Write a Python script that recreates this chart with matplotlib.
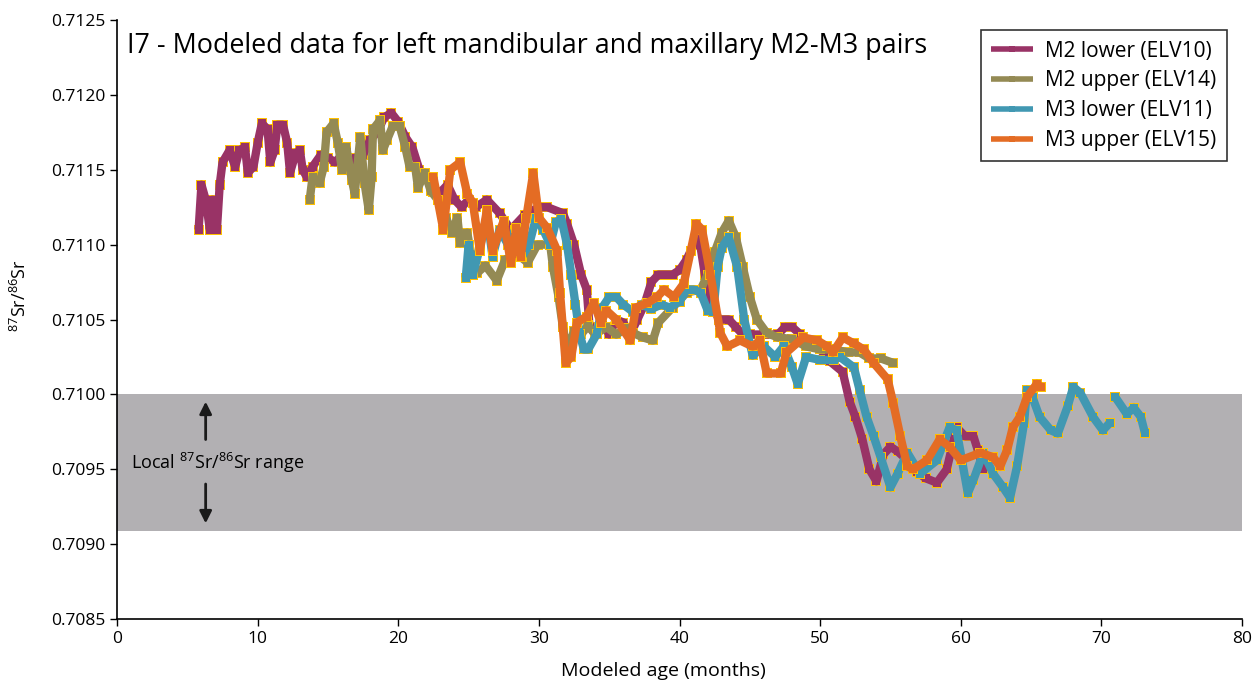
import matplotlib
matplotlib.use("Agg")
import matplotlib.pyplot as plt
import numpy as np

plt.rcParams['font.family'] = ['Open Sans', 'DejaVu Sans']
plt.rcParams['mathtext.default'] = 'regular'

# ---------------- data ----------------
m2_lower_x = [5.8, 6.0, 6.3, 6.6, 6.8, 7.1, 7.3, 7.5, 8.0, 8.4, 8.7, 9.1, 9.3, 9.7, 10.0, 10.3, 10.7, 10.9,
              11.2, 11.4, 11.8, 12.1, 12.3, 12.7, 13.0, 13.2, 13.5, 13.9, 14.5, 15.0, 15.5, 16.0, 16.5, 17.0,
              17.5, 18.0, 18.5, 19.0, 19.5, 20.0, 20.5, 21.0, 21.5, 22.0, 22.5, 23.0, 23.5, 24.0, 24.5, 25.0,
              25.5, 26.3, 27.2, 28.0, 29.0, 30.0, 30.6, 31.7, 32.0, 32.5, 33.0, 33.4, 33.6, 34.0, 34.5, 35.0,
              35.5, 36.0, 36.5, 37.0, 37.5, 38.0, 38.5, 39.0, 39.5, 40.0, 40.5, 41.0, 41.3, 41.8, 42.3, 42.8,
              43.5, 44.0, 44.5, 45.0, 46.0, 47.0, 47.5, 48.0, 48.6, 49.0, 50.0, 50.7, 51.6, 52.1, 52.5, 53.0,
              53.5, 54.0, 54.5, 55.0, 55.5, 56.2, 56.9, 57.5, 58.3, 59.0, 59.7, 60.3, 60.9, 61.2, 61.6]
m2_lower_y = [0.71110, 0.71140, 0.71130, 0.71110, 0.71130, 0.71110, 0.71140, 0.71155, 0.71163, 0.71152,
              0.71163, 0.71165, 0.71148, 0.71152, 0.71168, 0.71181, 0.71177, 0.71155, 0.71163, 0.71180,
              0.71180, 0.71168, 0.71148, 0.71161, 0.71163, 0.71150, 0.71145, 0.71152, 0.71160, 0.71158,
              0.71155, 0.71160, 0.71152, 0.71158, 0.71160, 0.71170, 0.71175, 0.71185, 0.71188, 0.71182,
              0.71172, 0.71165, 0.71150, 0.71145, 0.71135, 0.71135, 0.71140, 0.71130, 0.71125, 0.71130,
              0.71125, 0.71130, 0.71121, 0.71110, 0.71120, 0.71125, 0.71125, 0.71121, 0.71114, 0.71100,
              0.71080, 0.71070, 0.71045, 0.71040, 0.71048, 0.71040, 0.71050, 0.71048, 0.71040, 0.71050,
              0.71060, 0.71075, 0.71080, 0.71080, 0.71080, 0.71083, 0.71090, 0.71100, 0.71110, 0.71080,
              0.71060, 0.71050, 0.71050, 0.71045, 0.71040, 0.71040, 0.71040, 0.71040, 0.71045, 0.71045,
              0.71040, 0.71035, 0.71030, 0.71022, 0.71015, 0.70995, 0.70985, 0.70970, 0.70950, 0.70942,
              0.70960, 0.70965, 0.70962, 0.70956, 0.70948, 0.70944, 0.70941, 0.70950, 0.70978, 0.70972,
              0.70972, 0.70963, 0.70950]

m2_upper_x = [13.7, 13.9, 14.4, 14.7, 14.9, 15.4, 15.7, 16.0, 16.3, 16.7, 16.9, 17.3, 17.6, 17.9, 18.1,
              18.2, 18.7, 18.9, 19.2, 19.6, 20.1, 20.5, 20.8, 21.2, 21.4, 21.9, 22.3, 22.8, 23.4, 23.8,
              24.2, 24.4, 24.9, 25.3, 25.6, 26.2, 27.0, 27.6, 28.4, 29.2, 29.9, 30.8, 31.0, 31.4, 31.7,
              32.0, 32.5, 33.0, 33.5, 34.0, 34.8, 35.5, 36.2, 36.7, 37.4, 38.1, 38.5, 39.5, 40.5, 41.5,
              42.0, 42.5, 43.0, 43.5, 44.0, 44.5, 45.0, 45.5, 46.2, 47.0, 48.0, 49.0, 50.0, 51.0, 52.0,
              52.8, 53.5, 54.3, 55.2]
m2_upper_y = [0.71130, 0.71145, 0.71141, 0.71152, 0.71175, 0.71181, 0.71168, 0.71150, 0.71165, 0.71143,
              0.71134, 0.71172, 0.71141, 0.71123, 0.71145, 0.71177, 0.71183, 0.71163, 0.71170, 0.71179,
              0.71179, 0.71165, 0.71152, 0.71152, 0.71138, 0.71148, 0.71136, 0.71130, 0.71118, 0.71108,
              0.71118, 0.71101, 0.71108, 0.71088, 0.71081, 0.71086, 0.71076, 0.71090, 0.71094, 0.71088,
              0.71100, 0.71100, 0.71085, 0.71065, 0.71045, 0.71030, 0.71042, 0.71040, 0.71046, 0.71040,
              0.71045, 0.71040, 0.71044, 0.71041, 0.71038, 0.71036, 0.71048, 0.71058, 0.71068, 0.71070,
              0.71080, 0.71095, 0.71108, 0.71116, 0.71105, 0.71085, 0.71065, 0.71050, 0.71041, 0.71038,
              0.71037, 0.71032, 0.71030, 0.71030, 0.71028, 0.71028, 0.71024, 0.71024, 0.71021]

m3_lower_x = [24.8, 25.0, 25.3, 25.8, 26.3, 26.7, 27.2, 27.8, 28.3, 28.8, 29.3, 29.8, 30.3, 30.8, 31.2,
              31.6, 32.0, 32.3, 32.6, 32.9, 33.2, 33.5, 34.1, 34.5, 35.0, 35.5, 36.0, 36.7, 37.3, 38.0,
              38.7, 39.3, 40.0, 40.5, 41.0, 41.5, 42.0, 42.4, 42.7, 43.0, 43.5, 44.1, 44.6, 45.2, 46.0,
              46.8, 47.4, 48.0, 48.4, 49.0, 50.0, 51.0, 51.4, 52.4, 52.8, 53.3, 53.8, 54.3, 55.0, 55.5,
              56.2, 57.1, 58.3, 59.2, 59.7, 60.5, 60.9, 61.6, 62.3, 63.0, 63.5, 64.0, 64.5, 64.7, 65.1,
              65.6, 66.4, 66.9, 67.6, 68.0, 68.5, 69.4, 70.1, 70.6, np.nan, 71.0, 71.8, 72.3, 72.8, 73.1]
m3_lower_y = [0.71078, 0.71100, 0.71080, 0.71098, 0.71120, 0.71092, 0.71110, 0.71100, 0.71110, 0.71092,
              0.71100, 0.71118, 0.71110, 0.71100, 0.71115, 0.71117, 0.71100, 0.71080, 0.71060, 0.71040,
              0.71030, 0.71030, 0.71040, 0.71058, 0.71065, 0.71065, 0.71060, 0.71055, 0.71060, 0.71057,
              0.71060, 0.71058, 0.71062, 0.71070, 0.71070, 0.71068, 0.71056, 0.71055, 0.71085, 0.71098,
              0.71105, 0.71085, 0.71050, 0.71026, 0.71032, 0.71025, 0.71032, 0.71018, 0.71007, 0.71025,
              0.71023, 0.71023, 0.71025, 0.71018, 0.71003, 0.70985, 0.70972, 0.70958, 0.70938, 0.70947,
              0.70961, 0.70947, 0.70956, 0.70978, 0.70976, 0.70934, 0.70943, 0.70961, 0.70947, 0.70938,
              0.70931, 0.70952, 0.70981, 0.71003, 0.70998, 0.70985, 0.70976, 0.70974, 0.70992, 0.71005,
              0.71001, 0.70985, 0.70976, 0.70981, np.nan, 0.70998, 0.70987, 0.70991, 0.70985, 0.70974]

m3_upper_x = [22.5, 22.8, 23.2, 23.7, 24.4, 24.9, 25.3, 25.8, 26.3, 26.7, 27.5, 28.0, 28.4, 28.7, 29.1,
              29.6, 30.0, 30.6, 31.3, 31.5, 31.9, 32.3, 32.7, 33.4, 33.9, 34.4, 34.8, 35.5, 36.5, 36.9,
              37.7, 38.4, 38.9, 39.6, 40.3, 40.8, 41.2, 41.6, 42.2, 42.9, 43.4, 44.3, 45.2, 45.7, 46.2,
              47.2, 47.6, 48.8, 49.8, 50.5, 50.9, 51.6, 52.4, 53.1, 53.8, 54.8, 55.2, 55.7, 56.2, 56.6,
              57.6, 58.5, 59.2, 60.0, 61.4, 62.3, 62.8, 63.3, 63.7, 64.2, 64.7, 65.4, 65.7]
m3_upper_y = [0.71145, 0.71130, 0.71110, 0.71150, 0.71155, 0.71134, 0.71128, 0.71096, 0.71123, 0.71096,
              0.71116, 0.71088, 0.71111, 0.71092, 0.71118, 0.71148, 0.71118, 0.71111, 0.71096, 0.71068,
              0.71021, 0.71025, 0.71048, 0.71052, 0.71061, 0.71048, 0.71056, 0.71050, 0.71036, 0.71058,
              0.71061, 0.71065, 0.71070, 0.71065, 0.71074, 0.71096, 0.71114, 0.71110, 0.71080, 0.71041,
              0.71032, 0.71036, 0.71032, 0.71036, 0.71014, 0.71014, 0.71028, 0.71038, 0.71036, 0.71032,
              0.71028, 0.71038, 0.71034, 0.71030, 0.71021, 0.71010, 0.70994, 0.70972, 0.70952, 0.70950,
              0.70956, 0.70970, 0.70965, 0.70956, 0.70961, 0.70958, 0.70952, 0.70963, 0.70978, 0.70985,
              0.70998, 0.71007, 0.71005]

series_labels = ['M2 lower (ELV10)', 'M2 upper (ELV14)', 'M3 lower (ELV11)', 'M3 upper (ELV15)']
series_colors = ['#993366', '#948A54', '#4198B2', '#E46C24']

local_range = (0.70909, 0.71000)
title_text = 'I7 - Modeled data for left mandibular and maxillary M2-M3 pairs'

# ---------------- figure ----------------
fig = plt.figure(figsize=(12.56, 6.83), dpi=100)
ax = fig.add_axes([0.0932, 0.0937, 0.8957, 0.877])

ax.axhspan(local_range[0], local_range[1], color='#B2B0B3', zorder=0, lw=0)

xs = [m2_lower_x, m2_upper_x, m3_lower_x, m3_upper_x]
ys = [m2_lower_y, m2_upper_y, m3_lower_y, m3_upper_y]
for i, (x, y, lab, col) in enumerate(zip(xs, ys, series_labels, series_colors)):
    ax.plot(x, y, ls='none', marker='s', ms=6.8, mew=0, color='#FFC000', zorder=2 + 2 * i)
    ax.plot(x, y, color=col, lw=6, marker='s', ms=5.5, mew=0, solid_joinstyle='round',
            solid_capstyle='butt', zorder=3 + 2 * i, label=lab)

ax.set_xlim(0, 80)
ax.set_ylim(0.7085, 0.7125)
ax.set_xticks(np.arange(0, 81, 10))
ax.set_yticks(np.arange(0.7085, 0.71251, 0.0005))
ax.yaxis.set_major_formatter(matplotlib.ticker.FormatStrFormatter('%.4f'))
ax.tick_params(axis='both', labelsize=12.5, direction='out', length=5, width=1, colors='black')
for s in ['top', 'right']:
    ax.spines[s].set_visible(False)
for s in ['left', 'bottom']:
    ax.spines[s].set_linewidth(1.2)

ax.set_xlabel('Modeled age (months)', fontsize=14)
ax.xaxis.set_label_coords(0.486, -0.072)
ax.set_ylabel('$^{87}$Sr/$^{86}$Sr', fontsize=13)
ax.yaxis.set_label_coords(-0.077, 0.54)

ax.text(0.009, 0.957, title_text, transform=ax.transAxes, fontsize=19.4, va='center', ha='left')

ax.text(1.0, 0.70954, 'Local $^{87}$Sr/$^{86}$Sr range', fontsize=13, va='center', ha='left')
ax.annotate('', xy=(6.3, 0.70997), xytext=(6.3, 0.70968),
            arrowprops=dict(arrowstyle='-|>', color='#1a1a1a', lw=2, mutation_scale=18))
ax.annotate('', xy=(6.3, 0.70912), xytext=(6.3, 0.70942),
            arrowprops=dict(arrowstyle='-|>', color='#1a1a1a', lw=2, mutation_scale=18))

leg = ax.legend(loc='upper right', bbox_to_anchor=(0.9865, 0.983), fontsize=15, frameon=True,
                fancybox=False, edgecolor='black', handlelength=2.0, labelspacing=0.42,
                borderpad=0.5, handletextpad=0.6, borderaxespad=0.0)
leg.get_frame().set_linewidth(1.2)
for h in leg.legend_handles:
    h.set_linewidth(4)
    h.set_markersize(5)

fig.savefig('out.png', dpi=100)
